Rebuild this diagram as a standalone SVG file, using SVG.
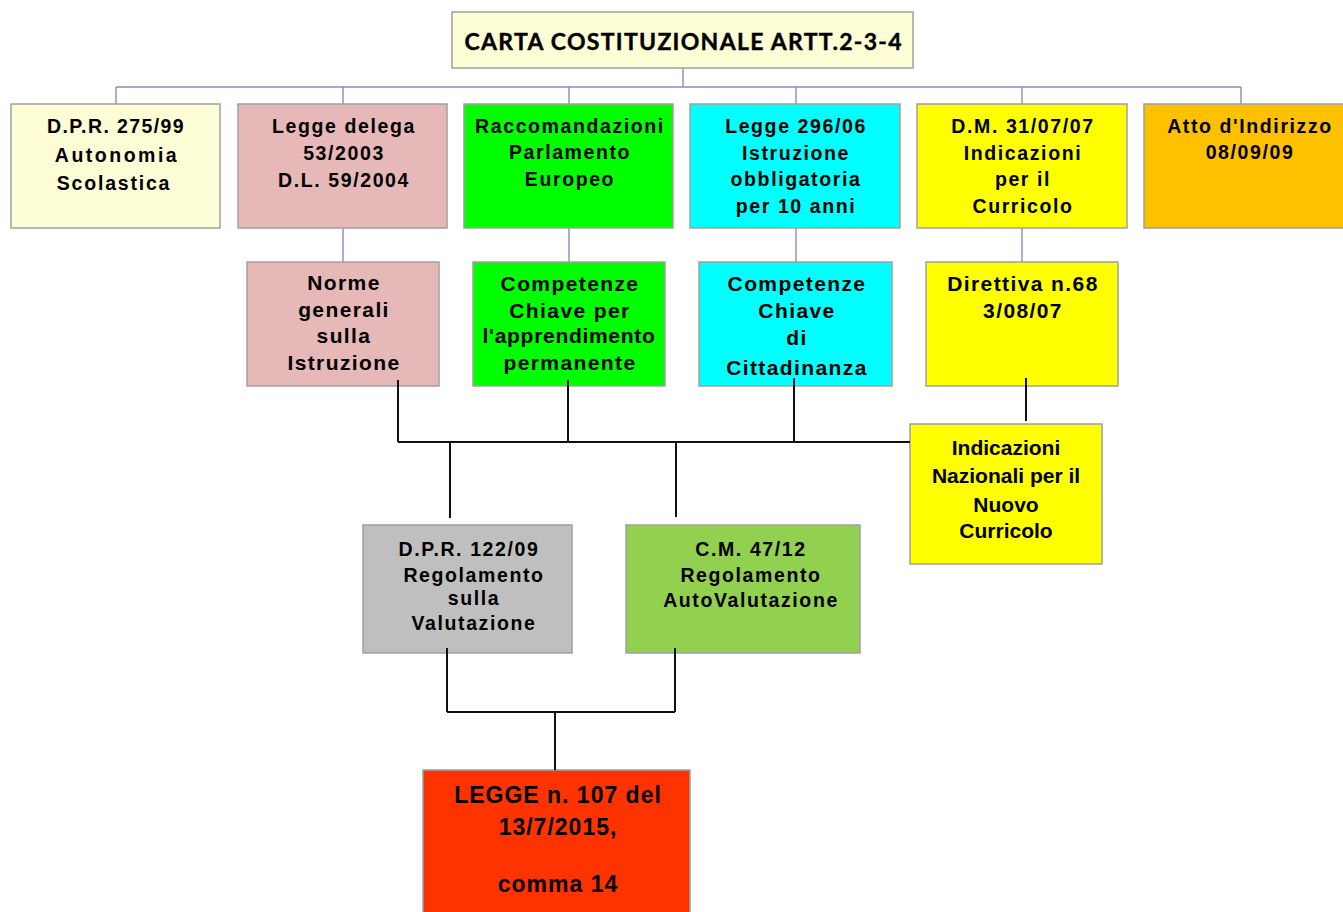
<svg xmlns="http://www.w3.org/2000/svg" width="1343" height="912" viewBox="0 0 1343 912">
<style>
.box{stroke:#a0a0a0;stroke-width:1.5}
.t1{font-family:"Liberation Sans",Arial,sans-serif;font-weight:bold;font-size:19.5px;letter-spacing:1.6px;text-anchor:middle;fill:#000}
.t2{font-family:"Liberation Sans",Arial,sans-serif;font-weight:bold;font-size:21px;letter-spacing:1.4px;text-anchor:middle;fill:#000}
.tE{font-family:"Liberation Sans",Arial,sans-serif;font-weight:bold;font-size:21px;letter-spacing:0px;text-anchor:middle;fill:#000}
.tH{font-family:"Liberation Sans",Arial,sans-serif;font-weight:bold;font-size:23px;letter-spacing:1px;text-anchor:middle;fill:#000}
.top{font-family:Lato,"Open Sans",sans-serif;font-weight:bold;font-size:23px;text-anchor:middle;fill:#000}
.pl{stroke:#8c8cbf;stroke-width:1.4;fill:none}
.bl{stroke:#111;stroke-width:2;fill:none}
</style>
<rect width="1343" height="912" fill="#fff"/>
<g id="connectors">
<path class="pl" d="M683 68V87M116 87H1241M116 87V104M343 87V104M569 87V104M796 87V104M1022 87V104M1241 87V104"/>
<path class="pl" d="M343 228V262M569 228V262M796 228V262M1022 228V262"/>
</g>
<g id="n0"><rect class="box" x="452" y="12" width="461" height="56" fill="#fdfdd6"/><text class="top" x="683" y="50" textLength="437" style="stroke:#000;stroke-width:0.4">CARTA COSTITUZIONALE ARTT.2-3-4</text></g>
<g id="n1"><rect class="box" x="11" y="104" width="209" height="124" fill="#fdfdd6"/>
<text class="t1" x="116" y="133" style="letter-spacing:1.4px">D.P.R. 275/99</text><text class="t1" x="117" y="162" style="letter-spacing:2.5px">Autonomia</text><text class="t1" x="114" y="190" style="letter-spacing:1.8px">Scolastica</text></g>
<g id="n2"><rect class="box" x="238" y="104" width="209" height="124" fill="#e6b8b7"/>
<text class="t1" x="344" y="133">Legge delega</text><text class="t1" x="344" y="160">53/2003</text><text class="t1" x="344" y="187">D.L. 59/2004</text></g>
<g id="n3"><rect class="box" x="464" y="104" width="209" height="124" fill="#00ff00"/>
<text class="t1" x="570" y="133">Raccomandazioni</text><text class="t1" x="570" y="159">Parlamento</text><text class="t1" x="570" y="186">Europeo</text></g>
<g id="n4"><rect class="box" x="690" y="104" width="210" height="124" fill="#00ffff"/>
<text class="t1" x="796" y="133">Legge 296/06</text><text class="t1" x="796" y="160">Istruzione</text><text class="t1" x="796" y="186">obbligatoria</text><text class="t1" x="796" y="213">per 10 anni</text></g>
<g id="n5"><rect class="box" x="917" y="104" width="210" height="124" fill="#ffff00"/>
<text class="t1" x="1023" y="133">D.M. 31/07/07</text><text class="t1" x="1023" y="160">Indicazioni</text><text class="t1" x="1023" y="186">per il</text><text class="t1" x="1023" y="213">Curricolo</text></g>
<g id="n6"><rect class="box" x="1144" y="104" width="209" height="124" fill="#ffc000"/>
<text class="t1" x="1250" y="133">Atto d'Indirizzo</text><text class="t1" x="1250" y="159">08/09/09</text></g>
<g id="n7"><rect class="box" x="247" y="262" width="192" height="124" fill="#e6b8b7"/>
<text class="t2" x="344" y="290">Norme</text><text class="t2" x="344" y="317">generali</text><text class="t2" x="344" y="343">sulla</text><text class="t2" x="344" y="370">Istruzione</text></g>
<g id="n8"><rect class="box" x="473" y="262" width="192" height="124" fill="#00ff00"/>
<text class="t2" x="570" y="291">Competenze</text><text class="t2" x="570" y="318">Chiave per</text><text class="t2" x="569" y="343" style="letter-spacing:0.7px">l'apprendimento</text><text class="t2" x="570" y="370">permanente</text></g>
<g id="n9"><rect class="box" x="699" y="262" width="193" height="124" fill="#00ffff"/>
<text class="t2" x="797" y="291">Competenze</text><text class="t2" x="797" y="318">Chiave</text><text class="t2" x="797" y="345">di</text><text class="t2" x="797" y="375">Cittadinanza</text></g>
<g id="n10"><rect class="box" x="926" y="262" width="192" height="124" fill="#ffff00"/>
<text class="t2" x="1023" y="291">Direttiva n.68</text><text class="t2" x="1023" y="318">3/08/07</text></g>
<g id="n11"><rect class="box" x="910" y="424" width="192" height="140" fill="#ffff00"/>
<text class="tE" x="1006" y="455">Indicazioni</text><text class="tE" x="1006" y="483">Nazionali per il</text><text class="tE" x="1006" y="512">Nuovo</text><text class="tE" x="1006" y="538">Curricolo</text></g>
<g id="n12"><rect class="box" x="363" y="525" width="209" height="128" fill="#bfbfbf"/>
<text class="t1" x="469" y="556">D.P.R. 122/09</text><text class="t1" x="474" y="582">Regolamento</text><text class="t1" x="474" y="605">sulla</text><text class="t1" x="474" y="630">Valutazione</text></g>
<g id="n13"><rect class="box" x="626" y="525" width="234" height="128" fill="#92d050"/>
<text class="t1" x="751" y="556">C.M. 47/12</text><text class="t1" x="751" y="582">Regolamento</text><text class="t1" x="751" y="607">AutoValutazione</text></g>
<g id="n14"><rect class="box" x="423" y="770" width="267" height="150" fill="#ff3300"/>
<text class="tH" x="558" y="803">LEGGE n. 107 del</text><text class="tH" x="558" y="835">13/7/2015,</text><text class="tH" x="558" y="892">comma 14</text></g>
<g id="black-connectors">
<path class="bl" d="M398 380V442M568 380V442M794 378V442M398 442H910M1026 378V421"/>
<path class="bl" d="M450 442V518M676 442V517"/>
<path class="bl" d="M447 648V712M675 648V712M447 712H675M555 712V770"/>
</g>
</svg>
